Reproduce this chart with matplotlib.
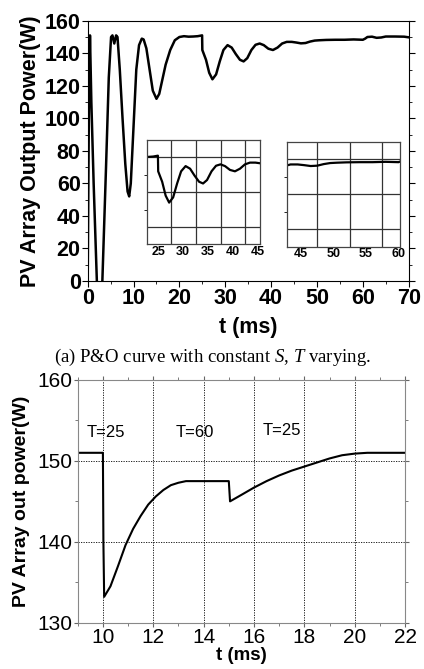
import numpy as np
import matplotlib
matplotlib.use("Agg")
import matplotlib.pyplot as plt
from matplotlib.ticker import MultipleLocator, FixedLocator

plt.rcParams['font.family'] = ['Liberation Sans', 'DejaVu Sans']
plt.rcParams['mathtext.fontset'] = 'custom'
plt.rcParams['mathtext.rm'] = 'Liberation Serif'
plt.rcParams['mathtext.it'] = 'Liberation Serif:italic'

# (a) P&O curve, full run
t_a = [0.0, 0.25, 0.5, 0.8, 1.3, 2.0, 2.6, 3.2, 4.0, 4.6, 5.1, 5.4, 5.8, 6.2, 6.5,
       7.0, 7.6, 8.2, 8.7, 9.05, 9.4, 10.0, 10.6, 11.2, 11.8, 12.2, 12.8, 13.5,
       14.2, 15.0, 15.6, 16.3, 17.0, 18.0, 19.0, 20.0, 21.0, 22.0, 23.0, 24.0,
       24.95, 25.0, 25.8, 26.5, 27.2, 28.0, 28.8, 29.6, 30.5, 31.4, 32.3, 33.2,
       34.0, 34.8, 35.7, 36.6, 37.5, 38.4, 39.4, 40.4, 41.4, 42.4, 43.4, 44.5,
       45.5, 46.5, 47.5, 48.5, 49.5, 50.5, 52.0, 54.0, 56.0, 58.0, 60.0, 60.5,
       61.0, 62.0, 63.0, 64.0, 65.0, 67.0, 69.0, 70.0]
p_a = [0, 100, 151, 110, 60, 0, -15, 0, 70, 125, 150, 151, 146, 151, 150,
       130, 100, 72, 55, 52, 60, 95, 130, 145, 149, 148.5, 143, 130,
       117, 112, 115, 124, 133, 142, 148, 150, 150.5, 150.2, 150.3, 150.5,
       151, 142, 136, 128, 124, 127, 135, 142, 145, 143.5, 139.5, 136,
       135, 137, 142, 145.2, 146, 145, 142.8, 142, 143.5, 146, 147, 147,
       146.6, 146.1, 146.3, 147.2, 147.8, 148, 148.2, 148.3, 148.3, 148.5, 148.3, 149,
       150, 150.2, 149.5, 149.7, 150.3, 150.3, 150.2, 149.8]

# (b) temperature step response
t_b = [9.0, 9.5, 10.0, 10.02, 10.05, 10.3, 10.6, 10.9, 11.2, 11.5, 11.8, 12.1,
       12.4, 12.7, 13.0, 13.3, 14.0, 15.0, 15.05, 15.5, 16.0, 16.5, 17.0, 17.5,
       18.0, 18.5, 19.0, 19.5, 20.0, 20.5, 22.0]
p_b = [151, 151, 151, 140, 133.2, 134.5, 137, 139.6, 141.6, 143.2, 144.6, 145.6,
       146.4, 147.0, 147.3, 147.5, 147.5, 147.5, 145.0, 145.8, 146.7, 147.5, 148.2, 148.8,
       149.3, 149.8, 150.3, 150.7, 150.9, 151, 151]
t_labels = ['T=25', 'T=60', 'T=25']
t_label_x = [10.1, 13.67, 17.1]
t_label_y = [153.5, 153.5, 153.8]

fig = plt.figure(figsize=(4.24, 6.69), dpi=100)

# ---- top panel
ax = fig.add_axes([0.2068, 0.580, 0.7571, 0.389])
ax.plot(t_a, p_a, color='black', lw=1.8)
ax.set_xlim(0, 70)
ax.set_ylim(0, 160)
ax.xaxis.set_major_locator(MultipleLocator(10))
ax.xaxis.set_minor_locator(MultipleLocator(5))
ax.yaxis.set_major_locator(MultipleLocator(20))
ax.yaxis.set_minor_locator(MultipleLocator(10))
ax.tick_params(which='both', direction='out', right=True, top=False,
               labelsize=15.5, pad=1)
ax.tick_params(which='major', length=4)
ax.tick_params(which='minor', length=2.5)
for lab in ax.get_xticklabels() + ax.get_yticklabels():
    lab.set_fontweight('bold')
ax.set_xlabel('t (ms)', fontsize=15.5, fontweight='bold', labelpad=6)
ax.set_ylabel('PV Array Output Power(W)', fontsize=15.5, fontweight='bold', labelpad=3)

def inset(rect, xlim, xt, xgrid):
    a = fig.add_axes(rect)
    a.plot(t_a, p_a, color='black', lw=1.6)
    a.set_xlim(*xlim)
    a.set_ylim(100, 160)
    a.set_xticks(xt)
    a.set_xticklabels([str(v) for v in xt], fontsize=9, fontweight='bold')
    a.xaxis.set_minor_locator(FixedLocator(xgrid))
    a.set_yticks([110, 130, 150])
    a.set_yticks([120, 140], minor=True)
    a.set_yticklabels([])
    a.grid(True, which='major', axis='y', color='#333333', lw=0.9)
    a.grid(True, which='minor', axis='x', color='#333333', lw=0.9)
    a.tick_params(axis='x', which='major', length=0, pad=1)
    a.tick_params(axis='x', which='minor', length=0)
    a.tick_params(axis='y', which='major', length=0)
    a.tick_params(axis='y', which='minor', length=2, direction='out')
    for s in a.spines.values():
        s.set_color('#444444')
        s.set_linewidth(0.9)
    return a

inset([0.346, 0.6348, 0.267, 0.1559], (22.7, 45.4), [25, 30, 35, 40, 45],
      [27.5, 32.5, 37.5, 42.5])
inset([0.676, 0.6312, 0.267, 0.157], (42.8, 60.2), [45, 50, 55, 60],
      [47.5, 52.5, 57.5])

fig.text(0.5, 0.4664, r'(a) P&O curve with constant $\it{S}$, $\it{T}$ varying.',
         fontsize=13.5, family='Liberation Serif', ha='center', va='center')

# ---- bottom panel
bx = fig.add_axes([0.1833, 0.0692, 0.772, 0.3628])
bx.plot(t_b, p_b, color='black', lw=1.5)
bx.set_xlim(9, 22)
bx.set_ylim(130, 160)
bx.set_xticks(np.arange(10, 23, 2))
bx.xaxis.set_minor_locator(MultipleLocator(1))
bx.yaxis.set_major_locator(MultipleLocator(10))
bx.yaxis.set_minor_locator(MultipleLocator(5))
bx.grid(True, which='major', color='black', ls=(0, (1.5, 1.5)), lw=0.6)
bx.tick_params(which='both', direction='out', top=True, right=True,
               labelsize=15, pad=1, color='#666666')
bx.tick_params(which='major', length=3)
bx.tick_params(which='minor', length=2)
for s in bx.spines.values():
    s.set_color('#888888')
bx.set_xlabel('t (ms)', fontsize=13.5, fontweight='bold', labelpad=0)
bx.set_ylabel('PV Array out power(W)', fontsize=14, fontweight='bold', labelpad=5)
for lab, x, y in zip(t_labels, t_label_x, t_label_y):
    bx.text(x, y, lab, fontsize=12, ha='center', va='center')

fig.savefig('out.png', dpi=100)
